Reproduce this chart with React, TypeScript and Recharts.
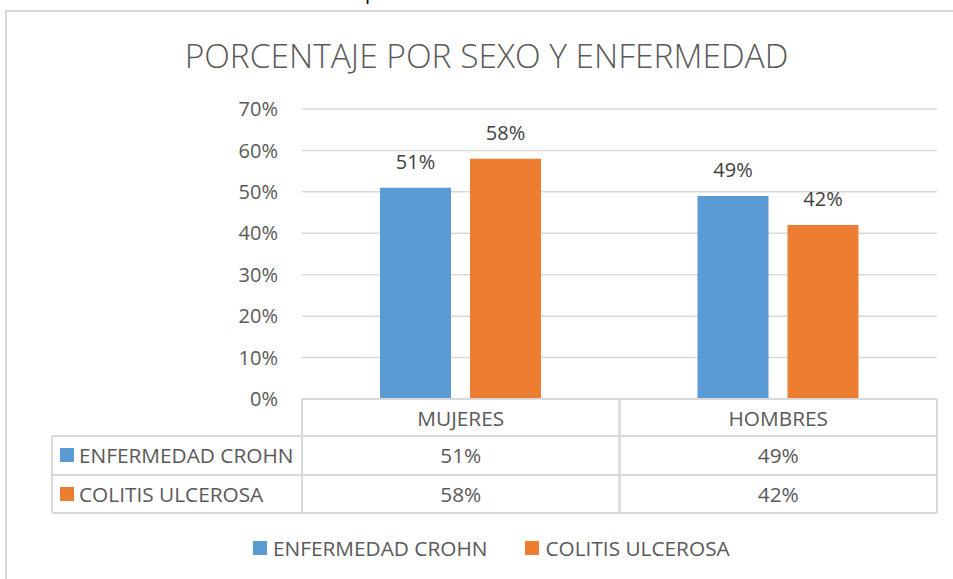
import { BarChart, Bar, XAxis, YAxis, CartesianGrid, LabelList } from 'recharts';

const categories = ['MUJERES', 'HOMBRES'];
const seriesNames = ['ENFERMEDAD CROHN', 'COLITIS ULCEROSA'];
const crohnValues = [0.51, 0.49];
const colitisValues = [0.58, 0.42];
const yTicks = [0, 0.1, 0.2, 0.3, 0.4, 0.5, 0.6, 0.7];

const COLORS = ['#5B9BD5', '#ED7D31'];
const TEXT = '#595959';
const LINE = '#d9d9d9';
const FONT = '"Open Sans", sans-serif';
const FS = 20.8;

const PLOT_LEFT = 302;
const PLOT_RIGHT = 937;
const TABLE_LEFT = 52;

const data = categories.map((name, i) => ({
  name,
  crohn: crohnValues[i],
  colitis: colitisValues[i],
}));
const seriesValues = [crohnValues, colitisValues];

const pct = (v: number) => `${Math.round(v * 100)}%`;

// x axis tick that draws the data table under each category
function TableTick(props: any) {
  const { x, y, payload } = props;
  const i = categories.indexOf(payload.value);
  const half = (PLOT_RIGHT - PLOT_LEFT) / categories.length / 2;
  const rows = [y + 37, y + 76, y + 114];
  const left = x - half;
  const right = x + half;
  return (
    <g>
      <line x1={left} x2={left} y1={y} y2={rows[2]} stroke={LINE} strokeWidth={2} />
      <line x1={right} x2={right} y1={y} y2={rows[2]} stroke={LINE} strokeWidth={2} />
      {rows.map((ry) => (
        <line key={ry} x1={left} x2={right} y1={ry} y2={ry} stroke={LINE} strokeWidth={2} />
      ))}
      <text x={x} y={y + 19} textAnchor="middle" dominantBaseline="central" fill={TEXT} fontSize={FS}>
        {payload.value}
      </text>
      {seriesValues.map((vals, s) => (
        <text key={s} x={x} y={y + 56 + s * 39} textAnchor="middle" dominantBaseline="central" fill={TEXT} fontSize={FS}>
          {pct(vals[i])}
        </text>
      ))}
      {i === 0 && (
        <g>
          <line x1={TABLE_LEFT} x2={TABLE_LEFT} y1={rows[0]} y2={rows[2]} stroke={LINE} strokeWidth={2} />
          {rows.map((ry) => (
            <line key={ry} x1={TABLE_LEFT} x2={left} y1={ry} y2={ry} stroke={LINE} strokeWidth={2} />
          ))}
          {seriesNames.map((n, s) => (
            <g key={n}>
              <rect x={TABLE_LEFT + 8} y={y + 49 + s * 39} width={14} height={14} fill={COLORS[s]} />
              <text x={TABLE_LEFT + 27} y={y + 56 + s * 39} dominantBaseline="central" fill={TEXT} fontSize={FS}>
                {n}
              </text>
            </g>
          ))}
        </g>
      )}
    </g>
  );
}

export default function App() {
  return (
    <div
      style={{
        position: 'absolute',
        left: 0,
        top: 0,
        width: 953,
        height: 579,
        background: '#fff',
        overflow: 'hidden',
        fontFamily: FONT,
      }}
    >
      <span
        style={{
          position: 'absolute',
          left: 365,
          top: -18,
          fontSize: 20,
          lineHeight: '20px',
          color: '#000',
        }}
      >
        p
      </span>
      <div
        style={{
          position: 'absolute',
          left: 5,
          top: 10,
          width: 1000,
          height: 700,
          border: `2px solid ${LINE}`,
          boxSizing: 'border-box',
        }}
      />
      <div
        style={{
          position: 'absolute',
          left: 20,
          width: 933,
          top: 32,
          textAlign: 'center',
          fontSize: 33.5,
          fontWeight: 300,
          color: TEXT,
          lineHeight: '46px',
        }}
      >
        PORCENTAJE POR SEXO Y ENFERMEDAD
      </div>
      <div style={{ position: 'absolute', left: 0, top: 0 }}>
        <BarChart
          width={953}
          height={579}
          data={data}
          margin={{ top: 109, right: 953 - PLOT_RIGHT, left: 0, bottom: 0 }}
          barCategoryGap={78}
          barGap={19}
          style={{ fontFamily: FONT }}
        >
          <CartesianGrid vertical={false} stroke={LINE} strokeWidth={1.5} />
          <YAxis
            width={PLOT_LEFT}
            domain={[0, 0.7]}
            ticks={yTicks}
            tickFormatter={pct}
            axisLine={false}
            tickLine={false}
            tickSize={0}
            tickMargin={24}
            tick={{ fill: TEXT, fontSize: 20 }}
          />
          <XAxis
            dataKey="name"
            height={180}
            axisLine={{ stroke: LINE, strokeWidth: 2 }}
            tickLine={false}
            tickSize={0}
            tickMargin={0}
            tick={<TableTick />}
            interval={0}
          />
          <Bar dataKey="crohn" fill={COLORS[0]} isAnimationActive={false}>
            <LabelList dataKey="crohn" position="top" offset={19} formatter={pct} fill="#404040" fontSize={20} />
          </Bar>
          <Bar dataKey="colitis" fill={COLORS[1]} isAnimationActive={false}>
            <LabelList dataKey="colitis" position="top" offset={19} formatter={pct} fill="#404040" fontSize={20} />
          </Bar>
        </BarChart>
      </div>
      <div
        style={{
          position: 'absolute',
          left: 253,
          top: 534,
          display: 'flex',
          gap: 38,
          fontSize: FS,
          color: TEXT,
          lineHeight: '28px',
          whiteSpace: 'nowrap',
        }}
      >
        {seriesNames.map((n, s) => (
          <div key={n} style={{ display: 'flex', alignItems: 'center', gap: 6 }}>
            <span style={{ width: 14, height: 14, background: COLORS[s], display: 'inline-block' }} />
            <span>{n}</span>
          </div>
        ))}
      </div>
    </div>
  );
}
